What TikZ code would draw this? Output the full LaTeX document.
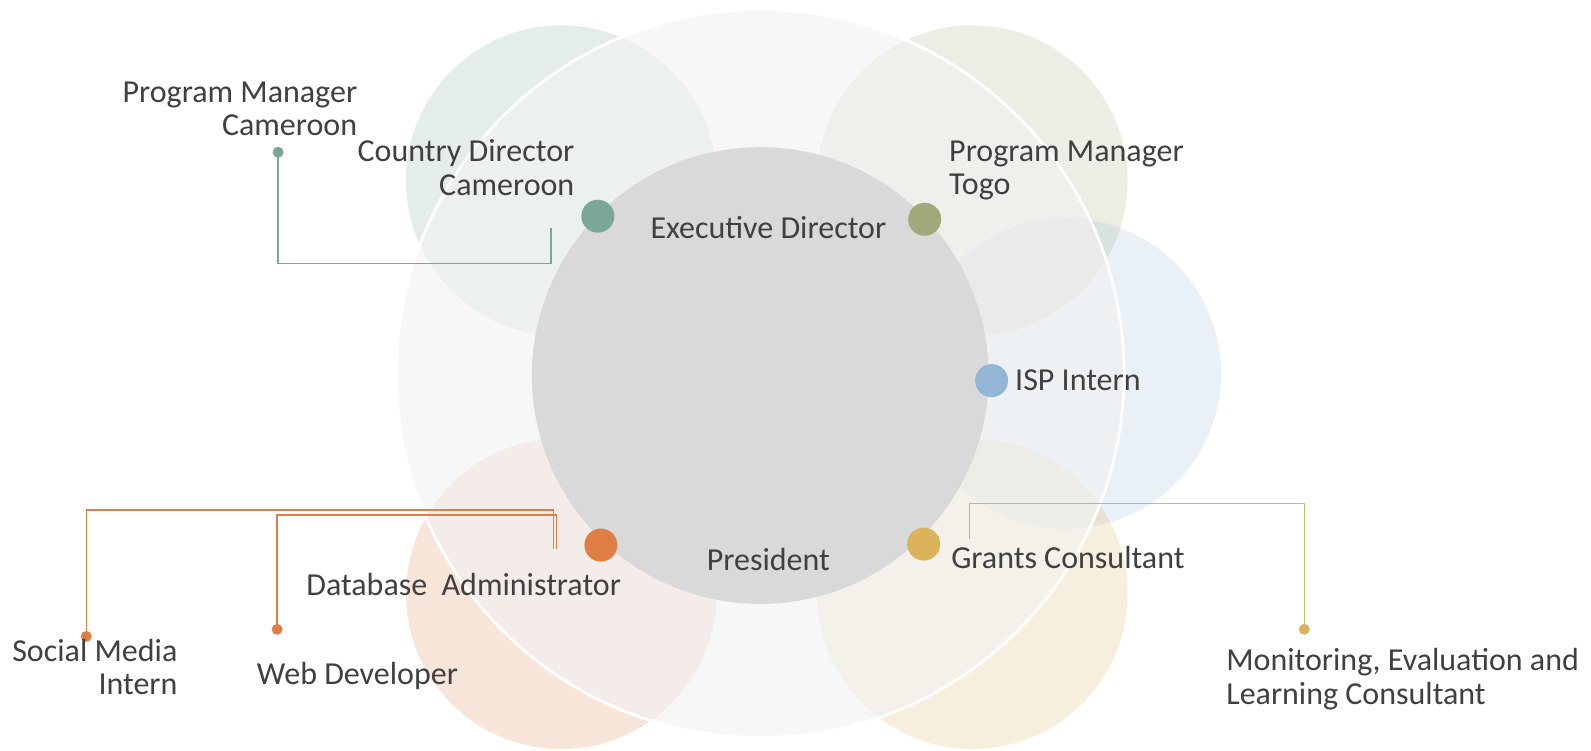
\documentclass[tikz,border=0pt]{standalone}
\usepackage{fontspec}
\setmainfont{Carlito}
\definecolor{txt}{HTML}{404040}
\definecolor{cteal}{HTML}{7AA79A}
\definecolor{colive}{HTML}{A2A87A}
\definecolor{cblue}{HTML}{93B6D4}
\definecolor{corange}{HTML}{E07F45}
\definecolor{cyellow}{HTML}{DBB35A}
\definecolor{cgrey}{HTML}{D9D9D9}
\definecolor{cbig}{HTML}{F2F2F2}
\begin{document}
\begin{tikzpicture}[x=1.015pt,y=-1.015pt,
  lbl/.style={font=\fontsize{32}{33.5}\selectfont, text=txt, inner sep=0pt},
  bigdot/.style={circle, minimum size=33pt, inner sep=0pt, fill=#1},
  smalldot/.style={circle, minimum size=11pt, inner sep=0pt, fill=#1},
  conn/.style={draw=#1, line width=1.3pt},
  petal/.style={fill=#1, fill opacity=0.2}]
\fill[white] (0,0) rectangle (1567.5,739.9);
\useasboundingbox (0,0) rectangle (1567.5,739.9);
% petals
\fill[petal=cteal] (553,178) circle (153);
\fill[petal=colive] (958,178) circle (153);
\fill[petal=cblue] (1050,368) circle (153);
\fill[petal=corange] (553,585) circle (153);
\fill[petal=cyellow] (958,585) circle (153);
% big circle
\fill[cbig, fill opacity=0.6] (749,368) circle (358.5);
\draw[white, line width=2.8pt] (749,368) circle (358.5);
% inner circle
\fill[cgrey] (749,370) circle (225);
% big dots
\node[bigdot=cteal] (cdc) at (589,213) {};
\node[bigdot=colive] (pmt) at (911,216) {};
\node[bigdot=cblue] (isp) at (977,375) {};
\node[bigdot=corange] (dba) at (592,537) {};
\node[bigdot=cyellow] (gc) at (910,536) {};
% small dots
\node[smalldot=cteal] (pmcDot) at (274,150) {};
\node[smalldot=corange] (smDot) at (85,627) {};
\node[smalldot=corange] (wdDot) at (273,620) {};
\node[smalldot=cyellow] (melDot) at (1285,620) {};
% connector ends
\coordinate (tcEnd) at (543,225);
\coordinate (smEnd) at (545,541);
\coordinate (wdEnd) at (548,541);
\coordinate (gcEnd) at (955,531);
% connectors
\draw[conn=cteal] (pmcDot.center) |- ([yshift=-35pt]tcEnd) -- (tcEnd);
\draw[conn=corange] (smDot.center) |- ([yshift=39pt]smEnd) -- (smEnd);
\draw[conn=corange] (wdDot.center) |- ([yshift=34pt]wdEnd) -- (wdEnd);
\draw[conn=cyellow] (gcEnd) |- ([yshift=126pt]melDot.center) -- (melDot.center);
% labels
\node[lbl, align=right, anchor=east] (pmcL) at (352,107) {Program Manager\\Cameroon};
\node[lbl, align=right, anchor=east] (cdcL) at (566,165) {Country Director\\Cameroon};
\node[lbl] (edL) at (757,224) {Executive Director};
\node[lbl, align=left, anchor=west] (pmtL) at (935,168) {Program Manager\\Togo};
\node[lbl, anchor=west] (ispL) at (1000,375) {ISP Intern};
\node[lbl, anchor=west] (gcL) at (937,549) {Grants Consultant};
\node[lbl] (presL) at (757,551) {President};
\node[lbl, anchor=east] (dbaL) at (612,576) {Database\ \ Administrator};
\node[lbl, align=right, anchor=east] (smL) at (175,657) {Social Media\\Intern};
\node[lbl, anchor=west] (wdL) at (253,666) {Web Developer};
\node[lbl, align=left, anchor=west] (melL) at (1208,669) {Monitoring, Evaluation and\\Learning Consultant};
\end{tikzpicture}
\end{document}
